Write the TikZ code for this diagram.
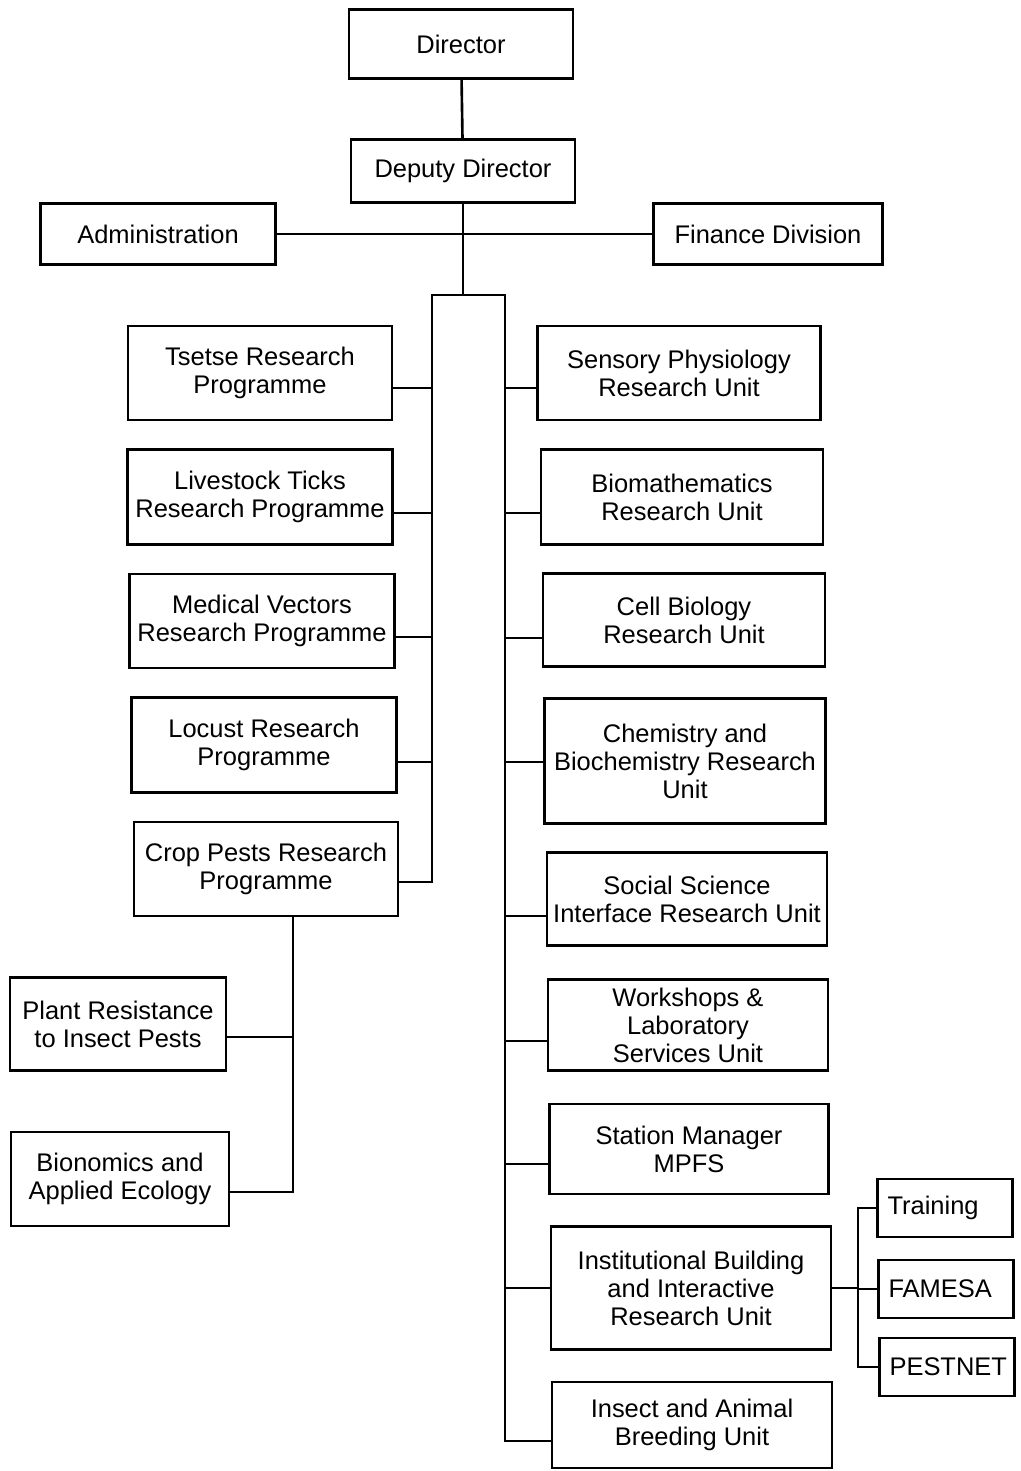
\documentclass[tikz,border=0pt]{standalone}
\usepackage{fontspec}
\setmainfont{Liberation Sans}
\begin{document}
\begin{tikzpicture}[x=0.02cm,y=-0.02cm,line width=1.5pt,
  every node/.style={draw,align=center,inner sep=0pt,font=\fontsize{14.5}{16}\selectfont},
  boxsize/.style 2 args={minimum width=#1*0.02cm,minimum height=#2*0.02cm},
  side/.style={align=left,text width=2.3cm,inner xsep=0.2cm,minimum height=1.16cm}]
\useasboundingbox (0,0) rectangle (1021,1471);
  \node[boxsize={224}{69}] (dir) at (461,44) {Director};
  \node[boxsize={224}{63}] (dep) at (463,171) {Deputy Director};
  \node[boxsize={235}{61}] (adm) at (158,234) {Administration};
  \node[boxsize={229}{61}] (fin) at (768,234) {Finance Division};
  % left column
  \node[boxsize={264}{94}] (tse) at (260,373) {Tsetse Research\\Programme};
  \node[boxsize={265}{95}] (liv) at (260,497) {Livestock Ticks\\Research Programme};
  \node[boxsize={265}{94}] (med) at (262,621) {Medical Vectors\\Research Programme};
  \node[boxsize={265}{95}] (loc) at (264,745) {Locust Research\\Programme};
  \node[boxsize={264}{94}] (crp) at (266,869) {Crop Pests Research\\Programme};
  \node[boxsize={216}{93}] (pla) at (118,1024) {Plant Resistance\\to Insect Pests};
  \node[boxsize={218}{94}] (bin) at (120,1179) {Bionomics and\\Applied Ecology};
  % right column
  \node[boxsize={283}{94}] (sen) at (679,373) {Sensory Physiology\\Research Unit};
  \node[boxsize={282}{95}] (bio) at (682,497) {Biomathematics\\Research Unit};
  \node[boxsize={282}{93}] (cel) at (684,620) {Cell Biology\\Research Unit};
  \node[boxsize={281}{125}] (che) at (685,761) {Chemistry and\\Biochemistry Research\\Unit};
  \node[boxsize={280}{93}] (soc) at (687,899) {Social Science\\Interface Research Unit};
  \node[boxsize={280}{91}] (wor) at (688,1025) {Workshops \&\\Laboratory\\Services Unit};
  \node[boxsize={279}{90}] (sta) at (689,1149) {Station Manager\\MPFS};
  \node[boxsize={280}{123}] (ins) at (691,1288) {Institutional Building\\and Interactive\\Research Unit};
  \node[boxsize={280}{86}] (ani) at (692,1425) {Insect and Animal\\Breeding Unit};
  \node[side] (tra) at (945,1208) {Training};
  \node[side] (fam) at (946,1289) {FAMESA};
  \node[side] (pes) at (947,1367) {PESTNET};
  \coordinate (lt) at (432,295);
  \coordinate (rt) at (505,295);
  \coordinate (pj) at (293,1037);
  \coordinate (bj) at (293,1192);
  \coordinate (ib) at (858,1288);
  \draw (dir)--(dep);
  \draw (adm)--(fin);
  \draw (dep)--(dep |- lt);
  \draw (crp.east |- 0,882) -| (lt) -- (rt) |- (ani.west |- 0,1441);
  \foreach \n/\y in {tse/388,liv/513,med/637,loc/762}
    \draw (\n.east |- 0,\y) -- (lt |- 0,\y);
  \foreach \n/\y in {sen/388,bio/513,cel/638,che/762,soc/916,wor/1041,sta/1164,ins/1288}
    \draw (\n.west |- 0,\y) -- (rt |- 0,\y);
  \draw (crp.south -| bj) |- (bin.east |- bj);
  \draw (pj)--(pla.east |- pj);
  \draw (ins.east)--(ib);
  \foreach \n in {tra,fam,pes}
    \draw (\n) -| (ib);
\end{tikzpicture}
\end{document}
